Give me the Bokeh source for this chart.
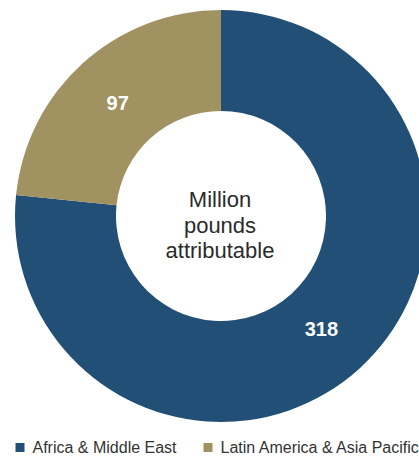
import math
from bokeh.plotting import figure
from bokeh.models import Range1d, ColumnDataSource
from bokeh.core.properties import value
from bokeh.embed import file_html
from bokeh.resources import INLINE

# Data
regions = ["Africa & Middle East", "Latin America & Asia Pacific"]
amounts = [318, 97]
colors = ["#224f76", "#a09261"]
center_lines = ["Million", "pounds", "attributable"]

W, H = 419, 459
p = figure(width=W, height=H, output_backend="svg", toolbar_location=None,
           x_range=Range1d(0, W), y_range=Range1d(0, H),
           min_border=0, outline_line_color=None)
p.axis.visible = False
p.grid.visible = False
p.background_fill_color = "white"
p.border_fill_color = "white"

cx, cy = 220.5, H - 215.5
r_out, r_in = 206, 105

total = sum(amounts)
starts, ends, lx, ly = [], [], [], []
a = math.pi / 2
for v in amounts:
    span = v / total * 2 * math.pi
    s, e = a - span, a
    starts.append(s)
    ends.append(e)
    mid = (s + e) / 2
    rl = 152
    lx.append(cx - 1.5 + rl * math.cos(mid))
    ly.append(cy + rl * math.sin(mid))
    a = s

src = ColumnDataSource(dict(start=starts, end=ends, color=colors,
                            lx=lx, ly=ly, txt=[str(v) for v in amounts]))
p.annular_wedge(x=cx, y=cy, inner_radius=r_in, outer_radius=r_out,
                start_angle="start", end_angle="end", fill_color="color",
                line_color=None, source=src)
p.text(x="lx", y="ly", text="txt", source=src, text_color="white",
       text_font=value("Liberation Sans"), text_font_style="bold",
       text_font_size="20px", text_align="center", text_baseline="middle")

# center text
p.text(x=[cx - 1] * 3, y=[H - 199, H - 224.5, H - 250], text=center_lines,
       text_color="#2b2b2b", text_font=value("Liberation Sans"),
       text_font_size="22px", text_align="center", text_baseline="alphabetic")

# legend
leg_y = H - 447
sq_x = [19.5, 207.5]
p.scatter(x=sq_x, y=[leg_y] * 2, marker="square", size=9,
          fill_color=colors, line_color=None)
p.text(x=[32, 220], y=[leg_y] * 2, text=regions, text_color="#333333",
       text_font=value("Liberation Sans"), text_font_size="16px",
       text_align="left", text_baseline="middle")

open("out.html", "w").write(file_html(p, INLINE))
